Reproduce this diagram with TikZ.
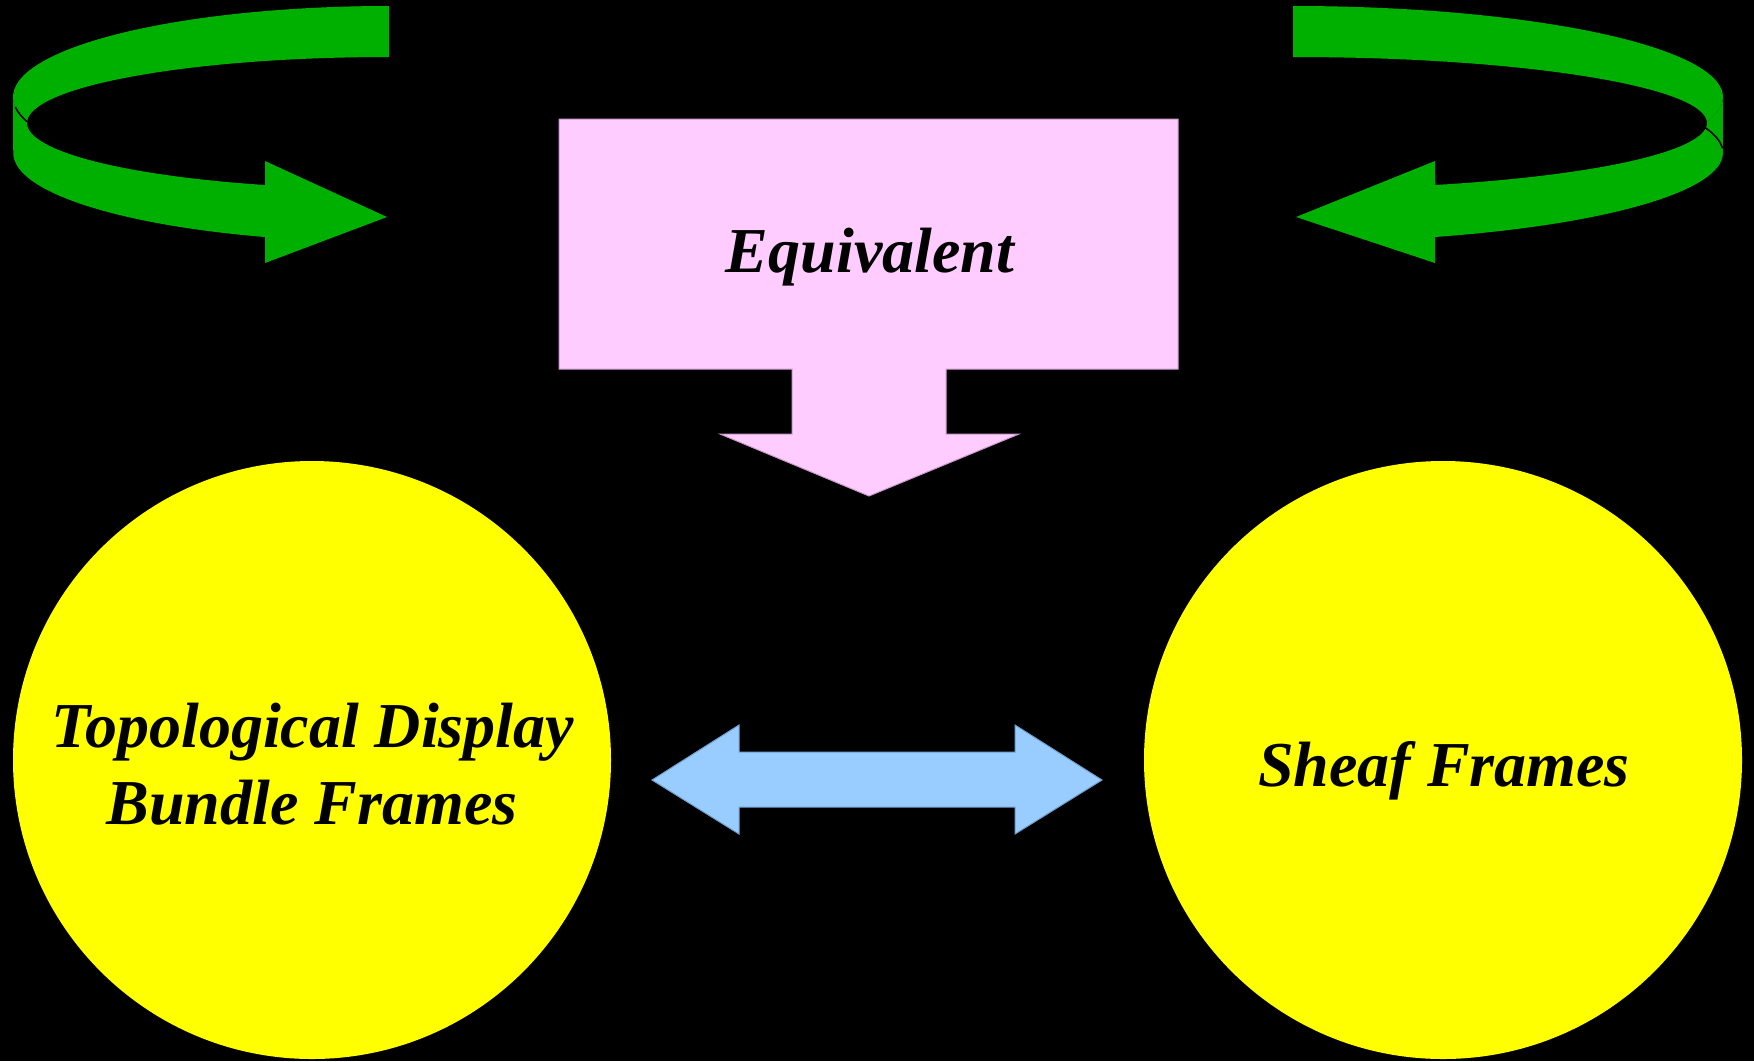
\documentclass[tikz,border=0pt]{standalone}
\usepackage{fontspec}
\setmainfont{Liberation Serif}
\definecolor{arrowgreen}{HTML}{00B000}
\definecolor{callpink}{HTML}{FFCCFF}
\definecolor{callpinkline}{HTML}{CC99CC}
\definecolor{dblblue}{HTML}{99CCFF}
\definecolor{dblblueline}{HTML}{6F9FD0}
\definecolor{discyellow}{HTML}{FFFF00}
\begin{document}
\begin{tikzpicture}[x=0.5pt,y=-0.5pt,
  lbl/.style={font=\fontsize{32}{38.5}\selectfont\bfseries\itshape, text=black, inner sep=0pt},
  disc/.style={circle, fill=discyellow, inner sep=0pt, minimum size=299pt},
  band/.style={fill=arrowgreen},
  foldline/.style={draw=black, line width=0.8pt}]
\useasboundingbox (0,0) rectangle (1754,1061);
\fill[black] (0,0) rectangle (1754,1061);

% left green curved arrow
\path[band] (13,97) arc[start angle=180,end angle=164.4,x radius=376,y radius=91]
  -- (27,123) arc[start angle=180,end angle=110,x radius=362,y radius=66]
  -- (265,161) -- (387,217) -- (265,263) -- (265,237)
  arc[start angle=109.3,end angle=180,x radius=376,y radius=89] -- cycle;
\path[band] (389,6) arc[start angle=270,end angle=164.4,x radius=376,y radius=91]
  -- (27,123) arc[start angle=180,end angle=270,x radius=362,y radius=66] -- cycle;
\draw[foldline] (15.3,107) arc[start angle=173.7,end angle=164.4,x radius=376,y radius=91];

% right green curved arrow
\path[band] (1293,6) arc[start angle=270,end angle=375.6,x radius=430,y radius=91]
  -- (1707,123) arc[start angle=0,end angle=-90,x radius=414,y radius=66] -- cycle;
\path[band] (1723,97) arc[start angle=0,end angle=15.6,x radius=430,y radius=91]
  -- (1707,123) arc[start angle=0,end angle=69.9,x radius=414,y radius=66]
  -- (1435,161) -- (1296,217) -- (1435,263) -- (1435,237)
  arc[start angle=70.7,end angle=0,x radius=430,y radius=89] -- cycle;
\draw[foldline] (1702.6,125.9) arc[start angle=-17.7,end angle=-3,x radius=430,y radius=89];

% pink callout
\draw[fill=callpink, draw=callpinkline, line width=0.5pt]
  (559,119) -- (1178,119) -- (1178,369) -- (946,369) -- (946,434) -- (1019,434)
  -- (869,496) -- (720,434) -- (792,434) -- (792,369) -- (559,369) -- cycle;
\node[lbl, anchor=base] (eq) at (870,272) {Equivalent};

% yellow discs
\node[disc] (left) at (312,760) {};
\node[disc] (right) at (1443,760) {};
\node[lbl, anchor=base] (l1) at (313,747) {Topological Display};
\node[lbl, anchor=base] (l2) at (312,824) {Bundle Frames};
\node[lbl, anchor=base] (r1) at (1444,786) {Sheaf Frames};

% blue double arrow
\draw[fill=dblblue, draw=dblblueline, line width=0.5pt]
  (652,780) -- (739,725) -- (739,752) -- (1015,752) -- (1015,725) -- (1102,780)
  -- (1015,834) -- (1015,807) -- (739,807) -- (739,834) -- cycle;
\end{tikzpicture}
\end{document}
